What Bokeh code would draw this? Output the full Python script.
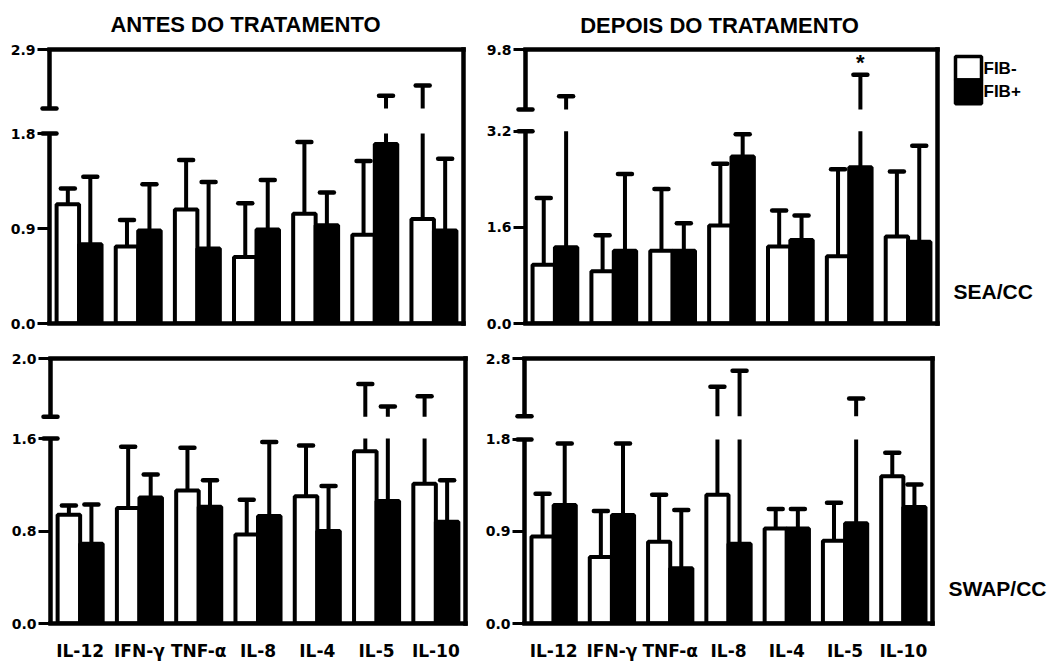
import numpy as np
from bokeh.plotting import figure
from bokeh.models import Range1d, FixedTicker, CustomJSTickFormatter, Label
from bokeh.core.properties import value
from bokeh.layouts import column, row
from bokeh.embed import file_html
from bokeh.resources import INLINE

cytokines = ["IL-12", "IFN-γ", "TNF-α", "IL-8", "IL-4", "IL-5", "IL-10"]

# SEA/CC stimulus, before treatment (mean and SD per cytokine)
sea_antes_neg = [1.13, 0.73, 1.08, 0.63, 1.04, 0.84, 0.99]
sea_antes_neg_sd = [0.15, 0.25, 0.47, 0.51, 0.68, 0.70, 1.24]
sea_antes_pos = [0.75, 0.88, 0.71, 0.89, 0.93, 1.70, 0.88]
sea_antes_pos_sd = [0.64, 0.44, 0.63, 0.47, 0.31, 0.34, 0.68]

# SEA/CC stimulus, after treatment
sea_depois_neg = [0.98, 0.87, 1.21, 1.63, 1.28, 1.12, 1.45]
sea_depois_neg_sd = [1.11, 0.60, 1.03, 1.03, 0.60, 1.45, 1.08]
sea_depois_pos = [1.27, 1.21, 1.21, 2.78, 1.39, 2.60, 1.36]
sea_depois_pos_sd = [3.39, 1.28, 0.46, 0.37, 0.41, 4.43, 1.60]

# SWAP/CC stimulus, before treatment
swap_antes_neg = [0.94, 1.00, 1.15, 0.77, 1.10, 1.49, 1.21]
swap_antes_neg_sd = [0.08, 0.53, 0.37, 0.30, 0.44, 0.335, 0.53]
swap_antes_pos = [0.69, 1.09, 1.01, 0.93, 0.80, 1.06, 0.88]
swap_antes_pos_sd = [0.34, 0.20, 0.23, 0.64, 0.39, 0.61, 0.36]

# SWAP/CC stimulus, after treatment
swap_depois_neg = [0.85, 0.65, 0.80, 1.26, 0.93, 0.81, 1.44]
swap_depois_neg_sd = [0.42, 0.45, 0.46, 1.05, 0.19, 0.37, 0.23]
swap_depois_pos = [1.16, 1.06, 0.54, 0.78, 0.93, 0.98, 1.14]
swap_depois_pos_sd = [0.60, 0.70, 0.57, 1.81, 0.19, 1.13, 0.22]

# broken y axes: ticks of the lower segment and the top of the upper segment
sea_antes_ticks = [0.0, 0.9, 1.8]
sea_antes_top = 2.9
sea_depois_ticks = [0.0, 1.6, 3.2]
sea_depois_top = 9.8
swap_antes_ticks = [0.0, 0.8, 1.6]
swap_antes_top = 2.0
swap_depois_ticks = [0.0, 0.9, 1.8]
swap_depois_top = 2.8

group_labels = ["FIB-", "FIB+"]
titles = ["ANTES DO TRATAMENTO", "DEPOIS DO TRATAMENTO"]
rows_labels = ["SEA/CC", "SWAP/CC"]

TICK_FONT = "DejaVu Sans"
TEXT_FONT = "Liberation Sans"
LW = 4.5
BAR_W = 0.38
OFF = 0.19
X0, X1 = -0.5, 6.5


def make_panel(neg, neg_sd, pos, pos_sd, ticks, top_value, g, xlabels):
    left, right, top, bottom = g["frame"]
    fw, fh = g["size"]
    W = right - left
    H = bottom - top
    lo_top = ticks[-1]
    h_lo = bottom - g["lo_px"]
    h_up = g["up_px"] - top
    y_end = lo_top * H / h_lo
    up_lo = lo_top
    up_start = up_lo - (H - h_up) * (top_value - up_lo) / h_up

    p = figure(width=fw, height=fh, x_range=Range1d(X0, X1), y_range=Range1d(0, y_end),
               output_backend="svg", toolbar_location=None, title=None,
               min_border_left=left, min_border_right=fw - right,
               min_border_top=top, min_border_bottom=fh - bottom)
    p.extra_y_ranges = {"up": Range1d(up_start, top_value)}
    p.outline_line_color = None
    p.xgrid.visible = False
    p.ygrid.visible = False
    p.background_fill_color = "white"
    p.border_fill_color = "white"

    ppx = (X1 - X0) / W  # data units per pixel along x

    def px2x(px):
        return X0 + (px - left) * ppx

    def py2y(py):
        return (bottom - py) / H * y_end

    ya = p.yaxis[0]
    ya.ticker = FixedTicker(ticks=list(ticks) + [y_end])
    ya.formatter = CustomJSTickFormatter(
        args=dict(lim=lo_top, label=f"{top_value:.1f}"),
        code="return tick > lim + 1e-9 ? label : tick.toFixed(1);")
    ya.axis_line_color = None
    ya.major_tick_out = 12
    ya.major_tick_in = 0
    ya.major_tick_line_width = 3
    ya.major_tick_line_color = "black"
    ya.minor_tick_line_color = None
    ya.major_label_text_font = TICK_FONT
    ya.major_label_text_font_size = "14px"
    ya.major_label_text_font_style = "bold"
    ya.major_label_text_color = "black"
    ya.major_label_standoff = 2

    xa = p.xaxis[0]
    if xlabels:
        xa.ticker = FixedTicker(ticks=list(range(len(cytokines))))
        xa.formatter = CustomJSTickFormatter(args=dict(names=cytokines),
                                             code="return names[Math.round(tick)];")
        xa.axis_line_color = None
        xa.major_tick_line_color = None
        xa.minor_tick_line_color = None
        xa.major_label_text_font = TICK_FONT
        xa.major_label_text_font_size = "17px"
        xa.major_label_text_font_style = "bold"
        xa.major_label_text_color = "black"
        xa.major_label_standoff = 11
    else:
        xa.visible = False

    xs = np.arange(len(cytokines), dtype=float)
    cap = 7 * ppx
    for sign, mean, sd, fill in ((-1, neg, neg_sd, "white"), (1, pos, pos_sd, "black")):
        xc = xs + sign * OFF
        mean = np.asarray(mean, dtype=float)
        upper = mean + np.asarray(sd, dtype=float)
        # lower segment of the error stems
        p.segment(x0=xc, y0=mean, x1=xc, y1=np.minimum(upper, lo_top),
                  line_color="black", line_width=4)
        # stems continued on the upper segment
        brk = upper > up_lo
        if brk.any():
            p.segment(x0=xc[brk], y0=[up_lo] * int(brk.sum()), x1=xc[brk], y1=upper[brk],
                      line_color="black", line_width=4, y_range_name="up")
            p.segment(x0=xc[brk] - cap, y0=upper[brk], x1=xc[brk] + cap, y1=upper[brk],
                      line_color="black", line_width=4.5, line_cap="round", y_range_name="up")
        low = ~brk
        p.segment(x0=xc[low] - cap, y0=upper[low], x1=xc[low] + cap, y1=upper[low],
                  line_color="black", line_width=4.5, line_cap="round")
        p.vbar(x=xc, top=np.minimum(mean, lo_top), bottom=0, width=BAR_W,
               fill_color=fill, line_color="black", line_width=4)

    # frame: top, right and bottom sides
    p.segment(x0=[X0, X1, X0], y0=[y_end, 0, 0], x1=[X1, X1, X1], y1=[y_end, y_end, 0],
              line_color="black", line_width=LW, line_cap="square", level="overlay")
    # broken left axis
    p.segment(x0=[X0], y0=[0], x1=[X0], y1=[lo_top], line_color="black",
              line_width=LW, level="overlay")
    p.segment(x0=[X0], y0=[up_lo], x1=[X0], y1=[top_value], line_color="black",
              line_width=LW, level="overlay", y_range_name="up")
    p.segment(x0=[X0 - cap], y0=[lo_top], x1=[X0 + cap], y1=[lo_top], line_color="black",
              line_width=LW, line_cap="round", level="overlay")
    p.segment(x0=[X0 - cap], y0=[up_lo], x1=[X0 + cap], y1=[up_lo], line_color="black",
              line_width=LW, line_cap="round", level="overlay", y_range_name="up")
    return p, px2x, py2y


def put_text(p, x, y, text, size, align="left"):
    p.text(x=[x], y=[y], text=[text], text_align=align, text_baseline="middle",
           text_font=value(TEXT_FONT), text_font_size=value(size),
           text_font_style="bold", text_color="black", level="overlay")


geo_tl = dict(size=(475, 340), frame=(49, 463, 49, 323), lo_px=133, up_px=108)
geo_tr = dict(size=(588, 340), frame=(50, 462, 46, 324), lo_px=129, up_px=107)
geo_bl = dict(size=(475, 323), frame=(50, 465, 15, 293), lo_px=99, up_px=76)
geo_br = dict(size=(588, 323), frame=(49, 457, 18, 293), lo_px=102, up_px=78)

p_tl, tl_x, tl_y = make_panel(sea_antes_neg, sea_antes_neg_sd, sea_antes_pos, sea_antes_pos_sd,
                              sea_antes_ticks, sea_antes_top, geo_tl, False)
p_tr, tr_x, tr_y = make_panel(sea_depois_neg, sea_depois_neg_sd, sea_depois_pos, sea_depois_pos_sd,
                              sea_depois_ticks, sea_depois_top, geo_tr, False)
p_bl, bl_x, bl_y = make_panel(swap_antes_neg, swap_antes_neg_sd, swap_antes_pos, swap_antes_pos_sd,
                              swap_antes_ticks, swap_antes_top, geo_bl, True)
p_br, br_x, br_y = make_panel(swap_depois_neg, swap_depois_neg_sd, swap_depois_pos, swap_depois_pos_sd,
                              swap_depois_ticks, swap_depois_top, geo_br, True)

# column titles
put_text(p_tl, tl_x(245), tl_y(24), titles[0], "22px", "center")
put_text(p_tr, tr_x(719 - 475), tr_y(22), titles[1], "22px", "center")

# significance mark over IL-5 FIB+
sig = 5
p_tr.add_layout(Label(x=sig + OFF, y=sea_depois_pos[sig] + sea_depois_pos_sd[sig], y_range_name="up",
                      y_offset=12, text="*", text_align="center", text_baseline="middle",
                      text_font=TEXT_FONT, text_font_size="22px", text_font_style="bold",
                      text_color="black"))

# legend
p_tr.quad(left=[tr_x(955 - 475)], right=[tr_x(981 - 475)], top=[tr_y(53)], bottom=[tr_y(77)],
          fill_color="white", line_color="black", line_width=3.5, level="overlay")
p_tr.quad(left=[tr_x(955 - 475)], right=[tr_x(981 - 475)], top=[tr_y(77)], bottom=[tr_y(101)],
          fill_color="black", line_color="black", line_width=3.5, level="overlay")
for text, py in zip(group_labels, (65, 89)):
    put_text(p_tr, tr_x(983 - 475), tr_y(py), text, "17px")

# row labels
put_text(p_tr, tr_x(953 - 475), tr_y(292), rows_labels[0], "21px")
put_text(p_br, br_x(948 - 475), br_y(597 - 340), rows_labels[1], "21px")

layout = column(row(p_tl, p_tr), row(p_bl, p_br))
open("out.html", "w").write(file_html(layout, INLINE))
